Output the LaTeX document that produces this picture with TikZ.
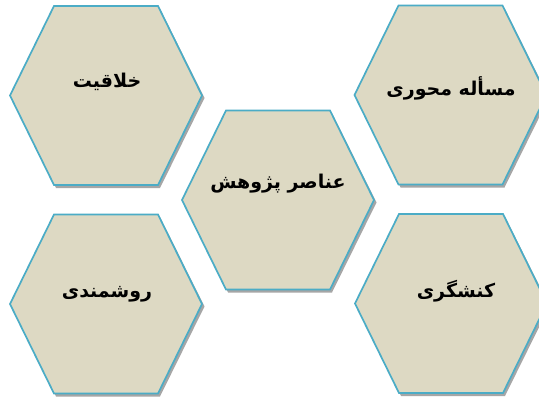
\documentclass[tikz,border=0pt]{standalone}
\usepackage{fontspec}
\newfontfamily\arabicfont[Script=Arabic]{DejaVu Sans}
\TeXXeTstate=1
\definecolor{hexfill}{HTML}{DDD9C3}
\definecolor{hexline}{HTML}{4BACC6}
\definecolor{hexshadow}{HTML}{A6A6A6}
\tikzset{
  hexa/.pic={
    \fill[hexshadow] (-94,2.5) -- (-50,-87) -- (54,-87) -- (98.5,2.5) -- (54,92.5) -- (-50,92.5) -- cycle;
    \draw[hexline, fill=hexfill, line width=1.7pt] (-96,0) -- (-52,-89.5) -- (52,-89.5) -- (96,0) -- (52,89.5) -- (-52,89.5) -- cycle;
  },
  label/.style={font=\arabicfont\bfseries\fontsize{19}{23}\selectfont, inner sep=0pt, text=black}
}
\begin{document}
\begin{tikzpicture}[x=1pt,y=-1pt]
\useasboundingbox (0,0) rectangle (539,399);
\fill[white] (0,0) rectangle (539,399);
\pic at (106,95.5) {hexa};
\pic at (450.5,95) {hexa};
\pic at (278,200) {hexa};
\pic at (106,304) {hexa};
\pic at (451,303.5) {hexa};
\node[label] (t1) at (107,82) {\beginR خلاقیت\endR};
\node[label] (t2) at (451,88) {\beginR مسأله محوری\endR};
\node[label] (t3) at (278,184) {\beginR عناصر پژوهش\endR};
\node[label] (t4) at (107,294) {\beginR روشمندی\endR};
\node[label] (t5) at (456,291) {\beginR کنشگری\endR};
\end{tikzpicture}
\end{document}
